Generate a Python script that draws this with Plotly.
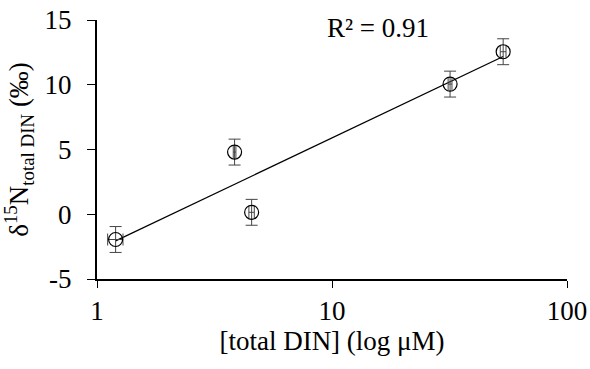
import numpy as np
import plotly.graph_objects as go

din = [1.2, 3.85, 4.55, 31.8, 53.5]
d15n = [-1.95, 4.8, 0.15, 10.05, 12.55]
y_err = [1.0, 1.0, 1.0, 1.0, 1.0]
x_err = [0.09, 0.05, 0.12, 0.6, 1.5]
r2_text = "R² = 0.91"
x_ticks = [1, 10, 100]
x_ticktext = ["1", "10", "100"]
y_ticks = [-5, 0, 5, 10, 15]
y_ticktext = ["-5", "0", "5", "10", "15"]

# linear trendline in log10(x), as in a spreadsheet log-axis trend
b, a = np.polyfit(np.log10(din), d15n, 1)
tx = [min(din), max(din)]
ty = [a + b * np.log10(v) for v in tx]

font = "Liberation Serif, Times New Roman, serif"
fs = 27

fig = go.Figure()
fig.add_trace(go.Scatter(x=tx, y=ty, mode="lines",
                         line=dict(color="black", width=1.3),
                         showlegend=False, hoverinfo="skip"))
fig.add_trace(go.Scatter(
    x=din, y=d15n, mode="markers",
    marker=dict(symbol="circle-open", size=14, color="black",
                line=dict(color="black", width=1.2)),
    error_y=dict(type="data", array=y_err, color="#444", thickness=1, width=6),
    error_x=dict(type="data", array=x_err, color="#444", thickness=1, width=6),
    showlegend=False))

fig.add_annotation(x=0.598, y=0.97, xref="paper", yref="paper",
                   text=r2_text, showarrow=False, xanchor="center",
                   yanchor="middle", font=dict(family=font, size=fs, color="black"))

fig.update_xaxes(type="log", range=[0, 2], tickvals=x_ticks,
                 ticktext=x_ticktext, automargin=False,
                 showline=True, linecolor="black", linewidth=2,
                 ticks="outside", ticklen=7, tickcolor="black", tickwidth=1,
                 ticklabelstandoff=0,
                 showgrid=False, zeroline=False,
                 tickfont=dict(family=font, size=fs, color="black"),
                 title=dict(text="[total DIN] (log μM)",
                            font=dict(family=font, size=fs, color="black"),
                            standoff=0))
fig.update_yaxes(range=[-5, 15], tickvals=y_ticks, ticktext=y_ticktext,
                 automargin=False,
                 showline=True, linecolor="black", linewidth=2,
                 ticks="outside", ticklen=8, tickcolor="black", tickwidth=1,
                 ticklabelstandoff=10,
                 showgrid=False, zeroline=False,
                 tickfont=dict(family=font, size=fs, color="black"),
                 title=dict(text="δ<sup>15</sup>N<sub>total DIN</sub> (‰)",
                            font=dict(family=font, size=27, color="black"),
                            standoff=8))
fig.update_layout(width=590, height=369, plot_bgcolor="white",
                  paper_bgcolor="white",
                  margin=dict(l=97, r=23, t=20, b=90))
fig.write_html("out.html")
